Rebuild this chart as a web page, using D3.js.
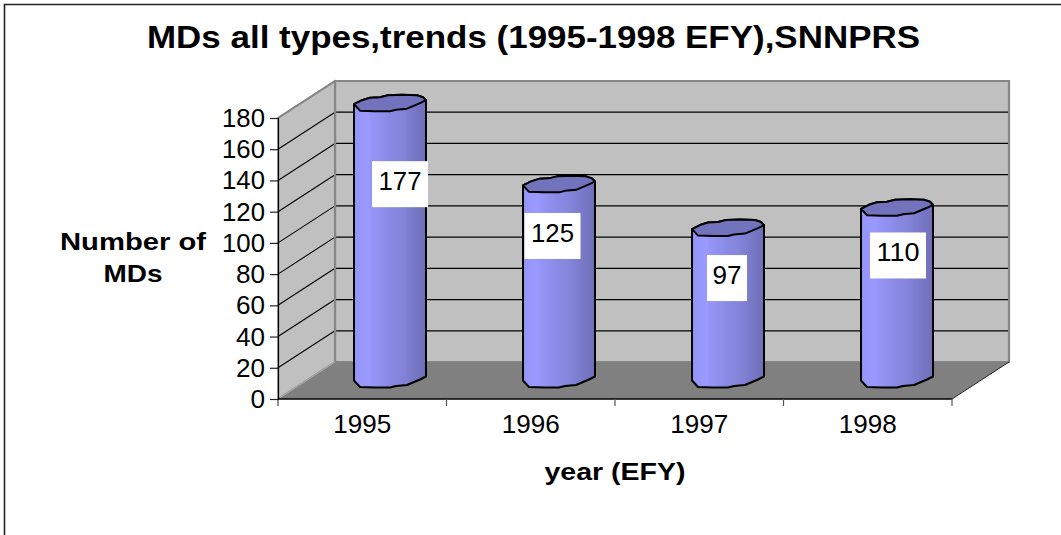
<!DOCTYPE html>
<html><head><meta charset="utf-8">
<script src="https://cdnjs.cloudflare.com/ajax/libs/d3/7.8.5/d3.min.js"></script>
<style>html,body{margin:0;padding:0;background:#fff}svg{display:block}text{font-family:"Liberation Sans",Arial,sans-serif;fill:#000}</style>
</head><body><svg id="c" width="1061" height="535"></svg>
<script>
const chartTitle = "MDs all types,trends (1995-1998 EFY),SNNPRS";
const yTitleLines = ["Number of", "MDs"];
const xTitle = "year (EFY)";
const years = ["1995", "1996", "1997", "1998"];
const counts = [177, 125, 97, 110];
const yTicks = [0, 20, 40, 60, 80, 100, 120, 140, 160, 180];

const svg = d3.select("#c");
const W = 1061, H = 535;
const dx = 57, dy = -37;               // 3D depth offset of the back wall
const x = d3.scaleBand().domain(years).range([278, 952]);
const xBar = d3.scaleBand().domain(years).range([305.5, 981.5]);  // bars sit mid-depth
const y = d3.scaleLinear().domain([0, 180]).range([399, 118]);
const line = d3.line();

// outer frame
svg.append("path").attr("d", line([[4.5, H + 2], [4.5, 4.5], [W + 2, 4.5]]))
  .attr("fill", "none").attr("stroke", "#222").attr("stroke-width", 1.6);

// walls and floor
const xL = x.range()[0], xR = x.range()[1], y0 = y(0), yT = y(180);
svg.append("polygon").attr("points", [[xL + dx, y0 + dy], [xL + dx, yT + dy], [xR + dx, yT + dy], [xR + dx, y0 + dy]].join(" "))
  .attr("fill", "#c0c0c0").attr("stroke", "#868686").attr("stroke-width", 2.2);
svg.append("polygon").attr("points", [[xL, y0], [xL, yT], [xL + dx, yT + dy], [xL + dx, y0 + dy]].join(" "))
  .attr("fill", "#c0c0c0").attr("stroke", "#868686").attr("stroke-width", 1.6);
svg.append("polygon").attr("points", [[xL, y0], [xR, y0], [xR + dx, y0 + dy], [xL + dx, y0 + dy]].join(" "))
  .attr("fill", "#808080");
svg.append("path").attr("d", line([[xR, y0], [xR + dx, y0 + dy]])).attr("stroke", "#222").attr("stroke-width", 1);

// gridlines
const grid = yTicks.filter(d => d > 0);
svg.selectAll("line.side").data(grid).join("line").attr("class", "side")
  .attr("x1", xL).attr("y1", d => y(d)).attr("x2", xL + dx).attr("y2", d => y(d) + dy)
  .attr("stroke", d => d === 180 ? "#868686" : "#000").attr("stroke-width", d => d === 180 ? 2 : 1.1);
svg.selectAll("line.back").data(grid.filter(d => d < 180)).join("line").attr("class", "back")
  .attr("x1", xL + dx).attr("y1", d => y(d) + dy).attr("x2", xR + dx - 1).attr("y2", d => y(d) + dy)
  .attr("stroke", "#000").attr("stroke-width", 1.3);
svg.append("line").attr("x1", xL + dx).attr("x2", xL + dx).attr("y1", yT + dy).attr("y2", y0 + dy)
  .attr("stroke", "#868686").attr("stroke-width", 2.2);
svg.append("path").attr("d", line([[xL, y0], [xL + dx, y0 + dy]])).attr("stroke", "#b0b0b0").attr("stroke-width", 1);

// axes
const stretch = { 1: 14.6, 2: 29, 3: 43, 4: 58 };
const gy = svg.append("g").attr("transform", `translate(${xL},0)`)
  .call(d3.axisLeft(y).tickValues(yTicks).tickSizeOuter(0).tickSize(8).tickPadding(5));
gy.select(".domain").attr("stroke", "#000").attr("stroke-width", 1.2);
gy.selectAll(".tick line").attr("stroke", "#222").attr("stroke-width", 1.2);
gy.selectAll("text").style("font-size", "25px").attr("dy", "0.34em")
  .attr("textLength", d => stretch[String(d).length]).attr("lengthAdjust", "spacingAndGlyphs");

const gx = svg.append("g").attr("transform", `translate(0,${y0})`)
  .call(d3.axisBottom(x).tickSize(0).tickPadding(16));
gx.select(".domain").remove();
gx.selectAll("text").style("font-size", "25px").attr("dy", "0.71em")
  .attr("textLength", stretch[4]).attr("lengthAdjust", "spacingAndGlyphs");
svg.append("line").attr("x1", xL).attr("x2", xR).attr("y1", y0).attr("y2", y0).attr("stroke", "#000").attr("stroke-width", 1.3);
svg.append("line").attr("x1", xL).attr("x2", xL).attr("y1", y0).attr("y2", y0 + 7).attr("stroke", "#222");
svg.selectAll("line.xt").data(years).join("line").attr("class", "xt")
  .attr("x1", d => x(d) + x.bandwidth()).attr("x2", d => x(d) + x.bandwidth())
  .attr("y1", y0).attr("y2", y0 + 7).attr("stroke", "#555").attr("stroke-width", 1.2);

// cylinder gradient with faceted steps
const defs = svg.append("defs");
const facets = [["0", "#8d8df0"], ["0.04", "#9696fa"], ["0.2", "#9999ff"], ["0.25", "#9595f8"], ["0.35", "#9090ef"], ["0.48", "#8a8ae6"],
  ["0.62", "#8686dd"], ["0.78", "#7c7cce"], ["0.86", "#7676c4"], ["1", "#6f6fb8"]];
const grad = defs.append("linearGradient").attr("id", "cyl").attr("x1", 0).attr("x2", 1).attr("y1", 0).attr("y2", 0);
facets.forEach(f => grad.append("stop").attr("offset", f[0]).attr("stop-color", f[1]));

// bars
const baseLift = 19.5;       // bar base centre above the front axis
const capUpper = [[-36, 1], [-28, -3], [-20, -5.5], [-10, -6], [-2, -8], [12, -8.5], [27, -8], [33, -6], [36, -3]];
const capLower = [[36, -3], [30, 0], [17, 5.5], [6, 6.5], [0, 8], [-15, 8], [-30, 7.5], [-36, 1]];
const curve = d3.line().curve(d3.curveLinear);
const bars = svg.selectAll("g.bar").data(years.map((k, i) => ({ k, v: counts[i] }))).join("g").attr("class", "bar")
  .attr("transform", d => `translate(${xBar(d.k) + xBar.bandwidth() / 2},0)`);
bars.append("path")
  .attr("d", d => {
    const top = y(d.v) - baseLift, bot = y0 - baseLift;
    const pts = capUpper.map(p => [p[0], p[1] + top]);
    const lower = capLower.map(p => [p[0], p[1] + bot]);
    return curve(pts) + "L" + curve(lower).slice(1) + "Z";
  })
  .attr("fill", "url(#cyl)").attr("stroke", "#000").attr("stroke-width", 2).attr("stroke-linejoin", "round");
bars.append("path")
  .attr("d", d => {
    const top = y(d.v) - baseLift;
    const a = capUpper.map(p => [p[0], p[1] + top]);
    const b = capLower.map(p => [p[0], p[1] + top]);
    return curve(a) + "L" + curve(b).slice(1) + "Z";
  })
  .attr("fill", "#7272bd").attr("stroke", "#000").attr("stroke-width", 2).attr("stroke-linejoin", "round");

// value labels on white boxes
const labelShift = { 177: [10, 81], 125: [-6.5, 51.6], 97: [-1, 50], 110: [1, 47.7] };
const labels = svg.selectAll("g.lab").data(years.map((k, i) => ({ k, v: counts[i] }))).join("g").attr("class", "lab")
  .attr("transform", d => `translate(${xBar(d.k) + xBar.bandwidth() / 2 + labelShift[d.v][0]},${y(d.v) - baseLift + labelShift[d.v][1]})`);
labels.append("rect")
  .attr("x", d => String(d.v).length === 3 ? -28 : -20).attr("width", d => String(d.v).length === 3 ? 56 : 40)
  .attr("y", -23).attr("height", 46).attr("fill", "#fff");
labels.append("text").text(d => d.v).attr("text-anchor", "middle").attr("y", -3).attr("dy", "0.36em")
  .style("font-size", "25px").attr("textLength", d => stretch[String(d.v).length]).attr("lengthAdjust", "spacingAndGlyphs");

// titles
svg.append("text").text(chartTitle).attr("x", 533.5).attr("y", 48).attr("text-anchor", "middle")
  .style("font-size", "31px").style("font-weight", "bold").attr("textLength", 773).attr("lengthAdjust", "spacingAndGlyphs");
svg.selectAll("text.yt").data(yTitleLines).join("text").attr("class", "yt").text(d => d)
  .attr("x", 133).attr("y", (d, i) => 250 + i * 32).attr("text-anchor", "middle")
  .style("font-size", "24px").style("font-weight", "bold")
  .attr("textLength", (d, i) => i === 0 ? 146 : 59).attr("lengthAdjust", "spacingAndGlyphs");
svg.append("text").text(xTitle).attr("x", 615).attr("y", 480).attr("text-anchor", "middle")
  .style("font-size", "24px").style("font-weight", "bold").attr("textLength", 141).attr("lengthAdjust", "spacingAndGlyphs");
</script></body></html>
